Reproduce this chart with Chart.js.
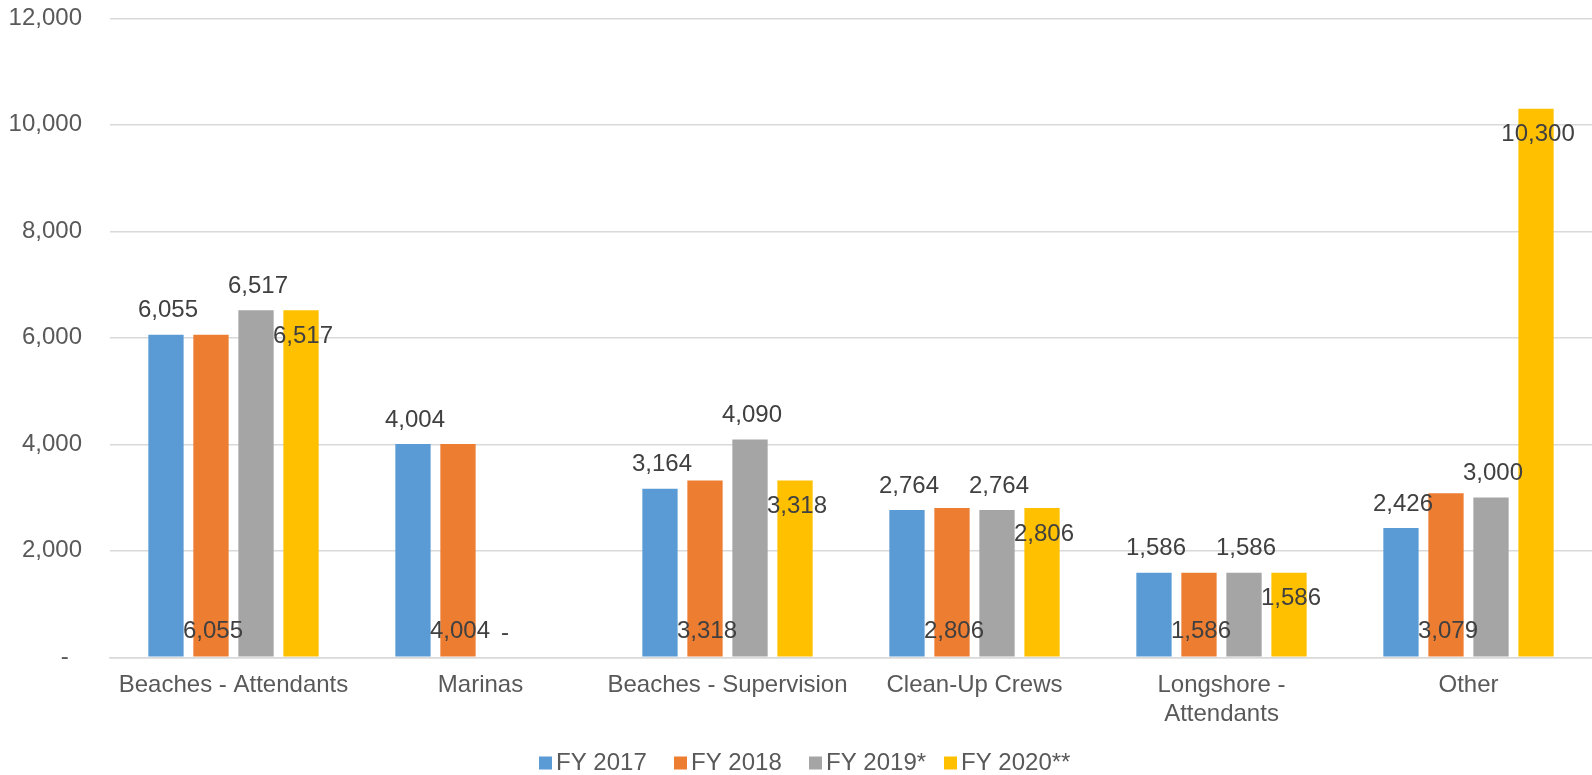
<!DOCTYPE html>
<html><head><meta charset="utf-8">
<script src="https://cdn.jsdelivr.net/npm/chart.js@4/dist/chart.umd.min.js"></script>
<style>html,body{margin:0;padding:0;background:#fff;overflow:hidden}#wrap{width:1592px;height:775px;position:relative}</style>
</head><body><div id="wrap"><canvas id="c"></canvas></div>
<script>
const categories = ['Beaches - Attendants', 'Marinas', 'Beaches - Supervision', 'Clean-Up Crews', ['Longshore -', 'Attendants'], 'Other'];
const seriesNames = ['FY 2017', 'FY 2018', 'FY 2019*', 'FY 2020**'];
const fy2017 = [6055, 4004, 3164, 2764, 1586, 2426];
const fy2018 = [6055, 4004, 3318, 2806, 1586, 3079];
const fy2019 = [6517, 0, 4090, 2764, 1586, 3000];
const fy2020 = [6517, null, 3318, 2806, 1586, 10300];
const yTickValues = [0, 2000, 4000, 6000, 8000, 10000, 12000];

const colors = ['#5B9BD5', '#ED7D31', '#A5A5A5', '#FFC000'];
const FONT = '"Liberation Sans", Arial, sans-serif';
const FS = 24;

function fmt(v) { return v === 0 ? '-' : v.toLocaleString('en-US'); }

const labelPlugin = {
  id: 'dlabels',
  afterDatasetsDraw(chart) {
    const ctx = chart.ctx;
    ctx.save();
    ctx.font = FS + 'px ' + FONT;
    ctx.fillStyle = '#404040';
    ctx.textAlign = 'center';
    ctx.textBaseline = 'middle';
    chart.data.datasets.forEach((ds, i) => {
      const meta = chart.getDatasetMeta(i);
      meta.data.forEach((bar, j) => {
        const v = ds.data[j];
        if (v === null || v === undefined) return;
        let y;
        if (i === 0 || i === 2) y = bar.y - 24;
        else if (i === 1) y = bar.base - 25.5;
        else y = bar.y + 26;
        ctx.fillText(fmt(v), bar.x + 2, y);
      });
    });
    ctx.restore();
  }
};

const legendPlugin = {
  id: 'customLegend',
  afterDraw(chart) {
    const ctx = chart.ctx;
    ctx.save();
    ctx.font = FS + 'px ' + FONT;
    ctx.textBaseline = 'middle';
    ctx.textAlign = 'left';
    const y = 763;
    chart.data.datasets.forEach((ds, i) => {
      const x = 539 + i * 135;
      ctx.fillStyle = ds.backgroundColor;
      ctx.fillRect(x, y - 6.5, 13, 13);
      ctx.fillStyle = '#595959';
      ctx.fillText(ds.label, x + 17, y);
    });
    ctx.restore();
  }
};

const allSeries = [fy2017, fy2018, fy2019, fy2020];

new Chart(document.getElementById('c'), {
  type: 'bar',
  data: {
    labels: categories,
    datasets: allSeries.map((d, i) => ({
      label: seriesNames[i],
      data: d,
      backgroundColor: colors[i],
      borderWidth: 0,
      categoryPercentage: 0.729,
      barPercentage: 0.784
    }))
  },
  options: {
    responsive: true,
    maintainAspectRatio: false,
    animation: false,
    devicePixelRatio: 1,
    layout: { padding: { top: 18.3, bottom: 37.7, left: 0, right: 0 } },
    plugins: { legend: { display: false }, tooltip: { enabled: false } },
    scales: {
      x: {
        grid: { display: false, drawTicks: false },
        border: { display: true, color: '#D9D9D9', width: 1.5 },
        ticks: { color: '#595959', font: { size: FS, family: FONT }, padding: 14, maxRotation: 0, autoSkip: false },
        afterFit(s) { s.height = 80; s.paddingLeft = 0; s.paddingRight = 0; }
      },
      y: {
        min: 0, max: 12000,
        afterBuildTicks(s) { s.ticks = yTickValues.map(v => ({ value: v })); },
        grid: { color: '#D9D9D9', lineWidth: 1.5, drawTicks: false },
        border: { display: false },
        ticks: {
          color: '#595959', font: { size: FS, family: FONT }, padding: 28,
          callback: v => v === 0 ? '-\u00A0\u00A0' : Number(v).toLocaleString('en-US')
        },
        afterFit(s) { s.width = 110; s.paddingTop = 0; s.paddingBottom = 0; }
      }
    }
  },
  plugins: [labelPlugin, legendPlugin]
});
</script>
</body></html>
